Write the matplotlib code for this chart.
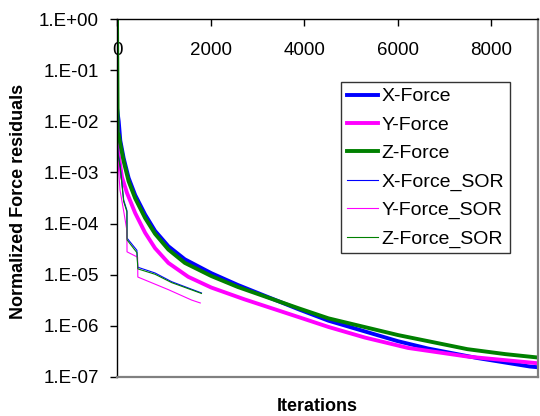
import numpy as np
import matplotlib
matplotlib.use("Agg")
import matplotlib.pyplot as plt
from matplotlib.ticker import FixedLocator, FuncFormatter, NullLocator

plt.rcParams['font.family'] = ['Liberation Sans', 'DejaVu Sans']

# series (iterations, normalized residual)
x_it = [0, 36, 70, 142, 248, 389, 601, 813, 1098, 1450, 2017, 2583, 3008, 3885,
        4522, 6008, 6650, 7700, 8830, 9000]
x_val = [1.8e-2, 1.0e-2, 4.2e-3, 1.9e-3, 7.8e-4, 3.6e-4, 1.5e-4, 7.2e-5, 3.6e-5,
         2.0e-5, 1.07e-5, 6.3e-6, 4.4e-6, 2.1e-6, 1.26e-6, 5.0e-7, 3.6e-7, 2.35e-7,
         1.6e-7, 1.55e-7]

y_it = [0, 20, 106, 212, 389, 601, 813, 1098, 1522, 2017, 2724, 3885, 4522, 5300,
        6220, 7500, 8980]
y_val = [1.3e-2, 2.7e-3, 8.1e-4, 4.0e-4, 1.6e-4, 6.6e-5, 3.3e-5, 1.7e-5, 9.1e-6,
         5.6e-6, 3.3e-6, 1.48e-6, 9.5e-7, 5.9e-7, 3.7e-7, 2.5e-7, 1.86e-7]

z_it = [0, 15, 36, 70, 142, 248, 389, 601, 813, 1098, 1450, 2017, 2583, 3008, 3885,
        4522, 6008, 7490, 8300, 9000]
z_val = [1.0, 6e-3, 5.5e-3, 3.6e-3, 1.65e-3, 6.7e-4, 3.1e-4, 1.28e-4, 6.3e-5,
         3.1e-5, 1.7e-5, 9.4e-6, 5.75e-6, 4.2e-6, 2.2e-6, 1.4e-6, 6.6e-7, 3.5e-7,
         2.8e-7, 2.4e-7]

xs_it = [0, 20, 70, 142, 212, 214, 425, 445, 813, 1168, 1805]
xs_val = [5e-3, 2.5e-3, 1.3e-3, 2.9e-4, 1.8e-4, 5.2e-5, 3.0e-5, 1.4e-5, 1.08e-5,
          7.3e-6, 4.4e-6]

ys_it = [0, 20, 64, 150, 210, 214, 440, 445, 1098, 1592, 1780]
ys_val = [4e-3, 1.7e-3, 4.5e-4, 1.6e-4, 7.4e-5, 2.8e-5, 2.2e-5, 9.0e-6, 5.1e-6,
          3.2e-6, 2.8e-6]

zs_it = [0, 20, 70, 142, 212, 214, 425, 445, 813, 1168, 1805]
zs_val = [4.5e-3, 2.3e-3, 1.2e-3, 2.7e-4, 1.7e-4, 4.8e-5, 2.7e-5, 1.3e-5, 1.02e-5,
          7.0e-6, 4.3e-6]

fig = plt.figure(figsize=(5.4, 4.16), dpi=100)
ax = fig.add_axes([0.2167, 0.0938, 0.7796, 0.8605])

ax.semilogy(x_it, x_val, color='#0000FF', lw=2.8, label='X-Force')
ax.semilogy(y_it, y_val, color='#FF00FF', lw=2.8, label='Y-Force')
ax.semilogy(z_it, z_val, color='#008000', lw=2.8, label='Z-Force')
ax.semilogy(xs_it, xs_val, color='#0000FF', lw=0.8, label='X-Force_SOR')
ax.semilogy(ys_it, ys_val, color='#FF00FF', lw=0.8, label='Y-Force_SOR')
ax.semilogy(zs_it, zs_val, color='#008000', lw=0.8, label='Z-Force_SOR')

ax.set_xlim(0, 9000)
ax.set_ylim(1e-7, 1)

ax.yaxis.set_major_locator(FixedLocator([10.0 ** k for k in range(-7, 1)]))
ax.yaxis.set_minor_locator(NullLocator())
ax.yaxis.set_major_formatter(FuncFormatter(lambda v, p: "1.E%+03d" % round(np.log10(v))))
ax.set_xticks([0, 2000, 4000, 6000, 8000])

ax.tick_params(axis='y', direction='out', length=5, width=1, pad=8, labelsize=13.5)
ax.tick_params(axis='x', top=True, bottom=False, labeltop=True, labelbottom=False,
               direction='in', length=5, width=1, pad=-29, labelsize=13.5)

for s in ['top', 'left']:
    ax.spines[s].set_color('black')
    ax.spines[s].set_linewidth(1)
for s in ['bottom', 'right']:
    ax.spines[s].set_color('#808080')
    ax.spines[s].set_linewidth(1.6)

ax.set_xlabel('Iterations', fontsize=13, fontweight='bold')
ax.xaxis.set_label_coords(0.475, -0.059)
ax.set_ylabel('Normalized Force residuals', fontsize=13, fontweight='bold')
ax.yaxis.set_label_coords(-0.215, 0.49)

leg = ax.legend(loc='upper left', bbox_to_anchor=(0.532, 0.824), fontsize=14,
                frameon=True, fancybox=False, shadow=False, handlelength=1.6,
                handletextpad=0.2, labelspacing=0.55, borderpad=0.3, borderaxespad=0)
leg.get_frame().set_edgecolor('black')
leg.get_frame().set_linewidth(1)

fig.savefig('out.png', dpi=100)
